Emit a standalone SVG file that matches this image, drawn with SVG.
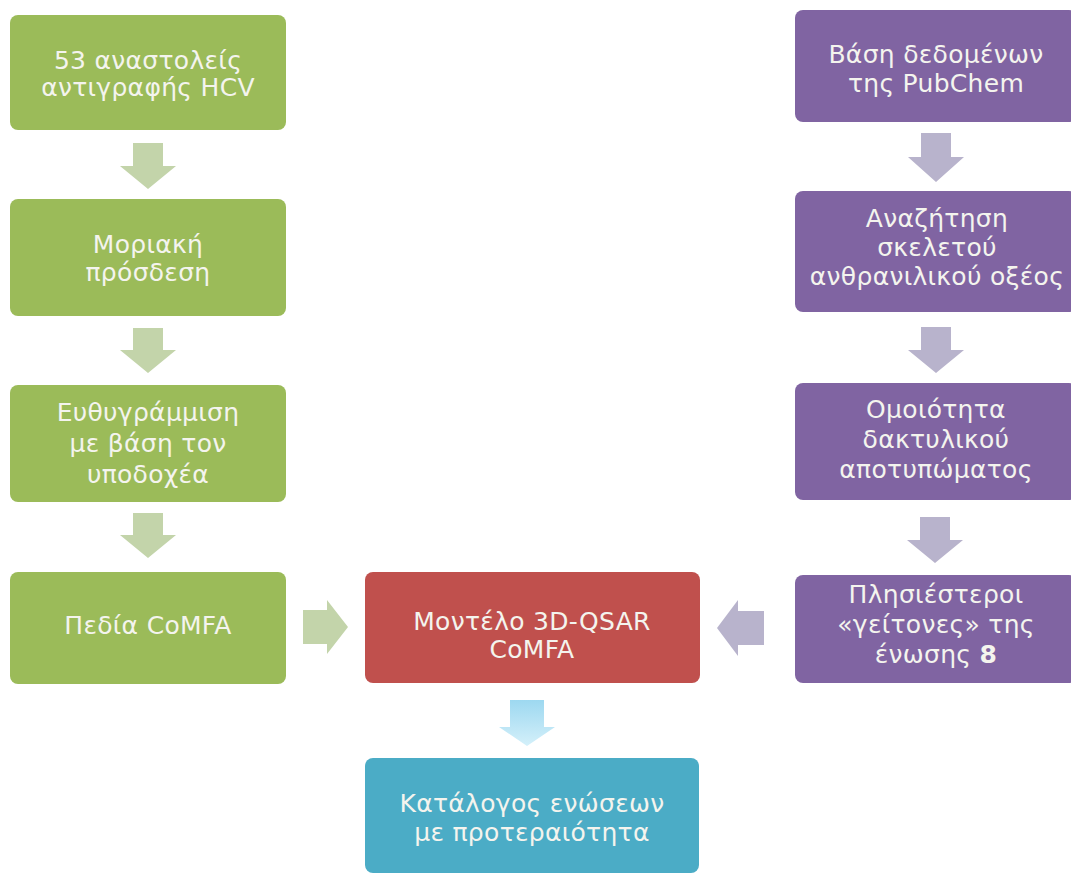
<svg xmlns="http://www.w3.org/2000/svg" width="1071" height="874" viewBox="0 0 1071 874">
  <style>
    .lbl { font-family: "DejaVu Sans", "Liberation Sans", sans-serif; font-size: 25px; letter-spacing: 0.3px; fill: #f4f4ee; text-anchor: middle; }
    .green { fill: #9bbb59; }
    .purple { fill: #8064a2; }
    .red { fill: #c0504d; }
    .teal { fill: #4bacc6; }
    .garrow { fill: #c3d4aa; }
    .parrow { fill: #b8b3cc; }
  </style>
  <defs>
    <linearGradient id="blueArrow" x1="0" y1="0" x2="0" y2="1">
      <stop offset="0" stop-color="#9dd8f0"/>
      <stop offset="1" stop-color="#d4f0fa"/>
    </linearGradient>
  </defs>
  <rect width="1071" height="874" fill="#ffffff"/>

  <!-- block arrows between steps -->
  <g id="connectors">
    <path class="garrow" d="M133,143 H163 V166 H176 L148,189 L120,166 H133 Z"/>
    <path class="garrow" d="M133,328 H163 V350 H176 L148,373 L120,350 H133 Z"/>
    <path class="garrow" d="M133,513 H163 V535 H176 L148,558 L120,535 H133 Z"/>
    <path class="garrow" d="M303,610 H327 V600 L348,627 L327,654 V644 H303 Z"/>
    <path class="parrow" d="M921,133 H951 V157 H964 L936,182 L908,157 H921 Z"/>
    <path class="parrow" d="M921,327 H951 V350 H964 L936,373 L908,350 H921 Z"/>
    <path class="parrow" d="M920,517 H950 V540 H963 L935,563 L907,540 H920 Z"/>
    <path class="parrow" d="M764,611 H738 V600 L717,628 L738,656 V645 H764 Z"/>
    <path fill="url(#blueArrow)" d="M510,700 H544 V727 H555 L527,746 L499,727 H510 Z"/>
  </g>

  <!-- left column -->
  <g id="inhibitors">
    <rect class="green" x="10" y="15" width="276" height="115" rx="8"/>
    <text class="lbl" x="148" y="69">53 αναστολείς</text>
    <text class="lbl" x="148" y="96">αντιγραφής HCV</text>
  </g>
  <g id="docking">
    <rect class="green" x="10" y="199" width="276" height="117" rx="8"/>
    <text class="lbl" x="148" y="253">Μοριακή</text>
    <text class="lbl" x="148" y="281">πρόσδεση</text>
  </g>
  <g id="alignment">
    <rect class="green" x="10" y="385" width="276" height="117" rx="8"/>
    <text class="lbl" x="148" y="421">Ευθυγράμμιση</text>
    <text class="lbl" x="148" y="452">με βάση τον</text>
    <text class="lbl" x="148" y="483">υποδοχέα</text>
  </g>
  <g id="comfa-fields">
    <rect class="green" x="10" y="572" width="276" height="112" rx="8"/>
    <text class="lbl" x="148" y="634">Πεδία CoMFA</text>
  </g>

  <!-- right column -->
  <g id="pubchem">
    <rect class="purple" x="795" y="10" width="282" height="112" rx="8"/>
    <text class="lbl" x="936" y="63">Βάση δεδομένων</text>
    <text class="lbl" x="936" y="92">της PubChem</text>
  </g>
  <g id="scaffold-search">
    <rect class="purple" x="795" y="191" width="282" height="121" rx="8"/>
    <text class="lbl" x="937" y="227">Αναζήτηση</text>
    <text class="lbl" x="937" y="256">σκελετού</text>
    <text class="lbl" x="937" y="285">ανθρανιλικού οξέος</text>
  </g>
  <g id="fingerprint">
    <rect class="purple" x="795" y="383" width="282" height="117" rx="8"/>
    <text class="lbl" x="936" y="418">Ομοιότητα</text>
    <text class="lbl" x="936" y="448">δακτυλικού</text>
    <text class="lbl" x="936" y="478">αποτυπώματος</text>
  </g>
  <g id="neighbours">
    <rect class="purple" x="795" y="575" width="282" height="108" rx="8"/>
    <text class="lbl" x="936" y="603">Πλησιέστεροι</text>
    <text class="lbl" x="936" y="633">«γείτονες» της</text>
    <text class="lbl" x="936" y="663">ένωσης <tspan font-weight="bold">8</tspan></text>
  </g>

  <!-- centre -->
  <g id="qsar-model">
    <rect class="red" x="365" y="572" width="335" height="111" rx="8"/>
    <text class="lbl" x="532" y="630">Μοντέλο 3D-QSAR</text>
    <text class="lbl" x="532" y="658">CoMFA</text>
  </g>
  <g id="priority-list">
    <rect class="teal" x="365" y="758" width="334" height="115" rx="8"/>
    <text class="lbl" x="532" y="812">Κατάλογος ενώσεων</text>
    <text class="lbl" x="532" y="841">με προτεραιότητα</text>
  </g>
</svg>
